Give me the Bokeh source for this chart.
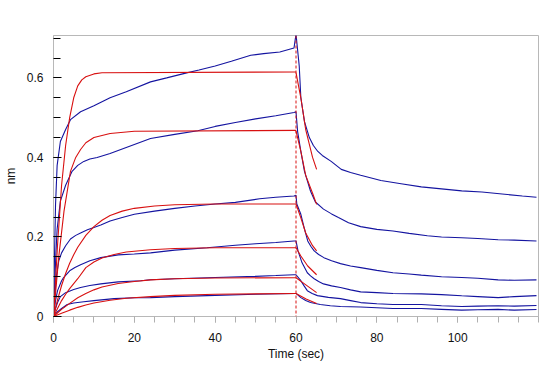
from bokeh.plotting import figure
from bokeh.models import Span, FixedTicker, Range1d
from bokeh.embed import file_html
from bokeh.resources import INLINE

# ---- measured (blue) curves: association then dissociation ----
blue1_t = [0, 0.25, 0.5, 0.9, 1.7, 3, 4.2, 6.7, 10, 14, 18, 24, 28, 32.7, 36, 40, 44, 48.8, 52, 56, 59.5, 60,
           60.8, 61.2, 62.1, 63.3, 64.3, 65.4, 66.5, 68.7, 71.2, 73.5, 76, 81, 86, 91, 96, 101, 106, 111, 116, 119.5]
blue1_nm = [0, 0.15, 0.28, 0.38, 0.44, 0.47, 0.495, 0.515, 0.53, 0.55, 0.565, 0.59, 0.60, 0.612, 0.62, 0.63, 0.642, 0.657, 0.661, 0.665, 0.675, 0.71,
            0.63, 0.55, 0.49, 0.45, 0.43, 0.415, 0.405, 0.39, 0.37, 0.362, 0.355, 0.342, 0.334, 0.326, 0.321, 0.316, 0.313, 0.308, 0.303, 0.30]

blue2_t = [0, 0.3, 0.6, 0.9, 1.7, 3, 4.6, 6, 7.5, 9, 10.8, 14, 18, 24, 30, 35.7, 40, 45, 50, 55, 59.5, 60,
           60.4, 61.2, 62.1, 63.6, 64.8, 66.8, 68.8, 70.5, 73, 76, 80, 84, 88, 92.5, 96, 101, 105, 110, 114, 119.5]
blue2_nm = [0, 0.08, 0.16, 0.22, 0.29, 0.33, 0.365, 0.38, 0.39, 0.396, 0.40, 0.41, 0.425, 0.4475, 0.458, 0.467, 0.478, 0.488, 0.497, 0.505, 0.513, 0.515,
            0.465, 0.415, 0.365, 0.315, 0.288, 0.27, 0.258, 0.249, 0.236, 0.226, 0.219, 0.215, 0.209, 0.203, 0.2, 0.198, 0.196, 0.193, 0.192, 0.19]

blue3_t = [0, 0.3, 0.7, 1.3, 2, 3, 4.2, 5.5, 6.7, 8.4, 10, 11.7, 14, 17, 20, 25, 30, 35, 40, 45, 51, 55, 59.5, 60,
           60.2, 61.2, 62.1, 62.9, 63.7, 64.5, 65.6, 66.9, 68.8, 71, 73.5, 76, 80, 84, 88, 91, 96, 101, 105, 110, 114, 119.5]
blue3_nm = [0, 0.05, 0.10, 0.14, 0.16, 0.178, 0.195, 0.204, 0.21, 0.218, 0.224, 0.23, 0.24, 0.249, 0.257, 0.265, 0.272, 0.278, 0.283, 0.287, 0.296, 0.30, 0.303, 0.305,
            0.283, 0.257, 0.22, 0.19, 0.176, 0.165, 0.156, 0.148, 0.14, 0.133, 0.127, 0.123, 0.116, 0.11, 0.107, 0.104, 0.1, 0.098, 0.096, 0.092, 0.091, 0.092]

blue4_t = [0, 0.5, 1, 2, 2.5, 4, 5.3, 6.7, 9, 11.7, 16, 20, 24, 30, 38, 45, 50, 55, 59.5, 60,
           60.5, 61.5, 62.8, 63.6, 64.5, 65.6, 66.8, 68.8, 71, 73.5, 76, 80, 84, 91, 96, 101, 105, 110, 114, 119.5]
blue4_nm = [0, 0.04, 0.065, 0.09, 0.098, 0.115, 0.123, 0.13, 0.14, 0.148, 0.155, 0.157, 0.16, 0.167, 0.173, 0.179, 0.183, 0.186, 0.19, 0.19,
            0.165, 0.135, 0.11, 0.102, 0.095, 0.088, 0.082, 0.077, 0.073, 0.067, 0.062, 0.06, 0.058, 0.057, 0.055, 0.052, 0.05, 0.0475, 0.05, 0.0525]

blue5_t = [0, 0.5, 1, 1.7, 3, 5, 6.7, 9, 11.7, 16, 21.6, 24, 30, 40, 50, 55, 59.5, 60,
           61.2, 62, 62.8, 64, 65.3, 68, 71, 73.5, 76, 80, 84, 91, 96, 101, 105, 110, 114, 119.5]
blue5_nm = [0, 0.02, 0.035, 0.05, 0.06, 0.068, 0.073, 0.078, 0.082, 0.087, 0.09, 0.0925, 0.095, 0.098, 0.101, 0.103, 0.105, 0.105,
            0.09, 0.077, 0.065, 0.058, 0.0525, 0.048, 0.045, 0.04, 0.035, 0.032, 0.03, 0.03, 0.027, 0.025, 0.026, 0.027, 0.026, 0.0275]

blue6_t = [0, 1, 2, 3.4, 5, 7.5, 10, 15, 20, 24, 30, 40, 50, 59.5, 60,
           61.2, 62.4, 63.6, 66, 68.5, 71, 76, 80, 84, 91, 96, 101, 105, 110, 114, 119.5]
blue6_nm = [0, 0.012, 0.02, 0.03, 0.034, 0.037, 0.04, 0.045, 0.047, 0.0475, 0.05, 0.053, 0.056, 0.058, 0.058,
            0.0475, 0.04, 0.035, 0.03, 0.027, 0.025, 0.024, 0.022, 0.02, 0.02, 0.018, 0.016, 0.017, 0.018, 0.016, 0.0175]

# ---- fitted (red) curves: association ----
fit1_t = [0, 1, 2, 3, 4, 5, 6, 7, 8, 10, 12, 60]
fit1_nm = [0, 0.18, 0.33, 0.43, 0.50, 0.55, 0.58, 0.595, 0.603, 0.61, 0.613, 0.615]
fit2_t = [0, 1.3, 2.6, 4.2, 5.5, 6.7, 8, 10, 14, 20, 60]
fit2_nm = [0, 0.15, 0.265, 0.365, 0.40, 0.42, 0.437, 0.45, 0.46, 0.466, 0.468]
fit3_t = [0, 1, 2, 3, 4, 5, 6, 8, 10, 12, 14, 17, 20, 25, 30, 40, 60]
fit3_nm = [0, 0.042, 0.078, 0.108, 0.134, 0.155, 0.174, 0.204, 0.226, 0.242, 0.254, 0.265, 0.272, 0.278, 0.281, 0.283, 0.283]
fit4_t = [0, 1, 2, 3, 4, 6, 8, 10, 12, 15, 18, 24, 30, 40, 60]
fit4_nm = [0, 0.02, 0.04, 0.056, 0.07, 0.095, 0.123, 0.137, 0.147, 0.156, 0.162, 0.168, 0.171, 0.173, 0.173]
fit5_t = [0, 2, 4, 6, 8, 10, 12, 16, 20, 24, 30, 40, 60]
fit5_nm = [0, 0.018, 0.033, 0.047, 0.058, 0.067, 0.074, 0.083, 0.088, 0.092, 0.095, 0.097, 0.0975]
fit6_t = [0, 2, 4, 6, 8, 10, 14, 18, 24, 30, 40, 60]
fit6_nm = [0, 0.008, 0.016, 0.023, 0.029, 0.034, 0.041, 0.046, 0.05, 0.053, 0.056, 0.058]

# ---- fitted (red) curves: dissociation ----
dfit1_t = [60, 61.2, 62.4, 64.1, 65.1]
dfit1_nm = [0.613, 0.55, 0.47, 0.40, 0.37]
dfit2_t = [60, 61.2, 62.4, 64.1, 65.1]
dfit2_nm = [0.467, 0.415, 0.355, 0.31, 0.282]
dfit3_t = [60, 61.2, 62.4, 64.1, 65.1]
dfit3_nm = [0.283, 0.248, 0.21, 0.178, 0.165]
dfit4_t = [60, 61.2, 62.9, 65.1]
dfit4_nm = [0.173, 0.152, 0.127, 0.105]
dfit5_t = [60, 62.1, 65.1]
dfit5_nm = [0.0975, 0.082, 0.06]
dfit6_t = [60, 62.5, 65.1]
dfit6_nm = [0.058, 0.044, 0.0325]

x_major = [0, 20, 40, 60, 80, 100]
y_major = [0, 0.2, 0.4, 0.6]
step_time = 60

BLUE = "#1414a0"
RED = "#d81010"
FONT = "Liberation Sans"

p = figure(width=540, height=364, output_backend="svg", toolbar_location=None,
           x_range=Range1d(0, 120), y_range=Range1d(0, 0.7066),
           min_border_left=53, min_border_right=2, min_border_top=35, min_border_bottom=48)
p.background_fill_color = "white"
p.border_fill_color = "white"
p.outline_line_color = "#b8b8b8"
p.grid.visible = False

blues = [(blue1_t, blue1_nm), (blue2_t, blue2_nm), (blue3_t, blue3_nm),
         (blue4_t, blue4_nm), (blue5_t, blue5_nm), (blue6_t, blue6_nm)]
fits = [(fit1_t, fit1_nm), (fit2_t, fit2_nm), (fit3_t, fit3_nm),
        (fit4_t, fit4_nm), (fit5_t, fit5_nm), (fit6_t, fit6_nm),
        (dfit1_t, dfit1_nm), (dfit2_t, dfit2_nm), (dfit3_t, dfit3_nm),
        (dfit4_t, dfit4_nm), (dfit5_t, dfit5_nm), (dfit6_t, dfit6_nm)]

for t, v in blues:
    p.line(t, v, line_color=BLUE, line_width=1.1)
for t, v in fits:
    p.line(t, v, line_color=RED, line_width=1.1)

p.add_layout(Span(location=step_time, dimension="height", line_color=RED,
                  line_dash="3 2", line_width=1))

xminor = [i * 5 for i in range(0, 25)]
yminor = [round(i * 0.05, 2) for i in range(0, 15)]
p.xaxis.ticker = FixedTicker(ticks=x_major, minor_ticks=xminor)
p.yaxis.ticker = FixedTicker(ticks=y_major, minor_ticks=yminor)
p.yaxis.major_label_overrides = {0: "0", 0.2: "0.2", 0.4: "0.4", 0.6: "0.6"}

p.xaxis.axis_label = "Time (sec)"
p.yaxis.axis_label = "nm"

for ax in (p.xaxis[0], p.yaxis[0]):
    ax.axis_line_color = "#b8b8b8"
    ax.major_label_text_font = FONT
    ax.major_label_text_font_size = "12px"
    ax.major_label_text_color = "#111111"
    ax.axis_label_text_font = FONT
    ax.axis_label_text_font_size = "12px"
    ax.axis_label_text_font_style = "normal"
    ax.axis_label_text_color = "#111111"

xa = p.xaxis[0]
xa.major_tick_in = 0
xa.major_tick_out = 6
xa.minor_tick_in = 0
xa.minor_tick_out = 6
xa.major_tick_line_color = "#b0b0b0"
xa.minor_tick_line_color = "#b0b0b0"
xa.major_label_standoff = 10
xa.axis_label_standoff = 2

ya = p.yaxis[0]
ya.major_tick_in = 8
ya.major_tick_out = 0
ya.minor_tick_in = 7
ya.minor_tick_out = 0
ya.major_tick_line_color = "black"
ya.minor_tick_line_color = "black"
ya.major_label_standoff = 10
ya.axis_label_standoff = 6

open("out.html", "w").write(file_html(p, INLINE))
